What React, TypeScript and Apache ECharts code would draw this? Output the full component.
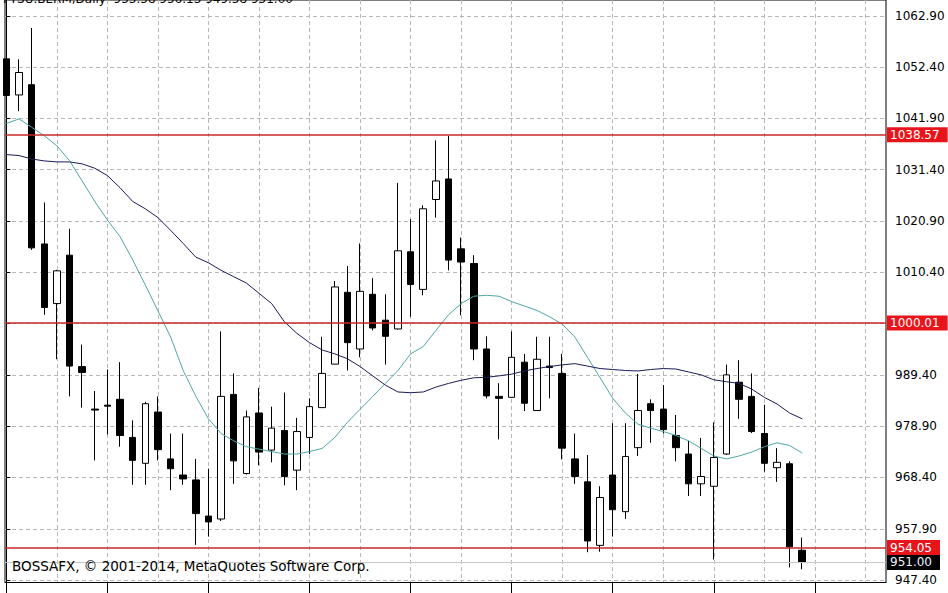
import React, { useEffect, useRef } from "react";
import * as echarts from "echarts";

// Daily candles (index = bar number from the left)
const opens = [
  1054.1, 1046.7, 1048.8, 1016.2, 1004.0, 1013.9, 991.1, 982.4, 983.2, 984.4,
  976.6, 971.3, 981.8, 972.2, 968.9, 967.9, 960.5, 959.9, 985.4, 969.2,
  981.6, 974.0, 978.0, 969.9, 976.6, 982.7, 991.6, 1006.3, 994.7, 1005.9,
  1000.6, 998.8, 1014.6, 1006.9, 1025.3, 1029.5, 1015.2, 1012.2, 994.7, 985.0,
  984.8, 992.0, 982.1, 991.2, 989.7, 972.2, 967.5, 954.5, 968.9, 961.4,
  974.5, 983.5, 982.4, 977.0, 973.2, 967.1, 966.6, 973.2, 987.9, 985.0,
  977.4, 970.4, 971.2, 953.5,
];
const closes = [
  1046.6, 1051.3, 1015.4, 1003.2, 1010.7, 991.2, 989.9, 982.2, 983.0, 977.0,
  971.9, 983.5, 974.1, 970.2, 968.1, 961.0, 959.3, 985.0, 971.8, 980.8,
  973.6, 978.5, 968.6, 977.8, 982.9, 989.7, 1007.4, 996.0, 1006.5, 999.0,
  997.3, 1014.8, 1007.9, 1023.4, 1029.1, 1012.9, 1012.5, 994.7, 985.1, 984.6,
  993.0, 983.6, 992.6, 990.9, 974.4, 968.6, 955.4, 964.3, 961.8, 972.7,
  982.1, 982.1, 978.2, 974.5, 967.1, 968.6, 972.5, 989.4, 984.4, 977.8,
  971.3, 971.5, 954.2, 951.0,
];
const lows = [
  1046.2, 1043.4, 1015.0, 1001.7, 992.6, 985.0, 982.7, 971.9, 977.2, 974.7,
  966.9, 966.9, 971.9, 965.8, 966.9, 954.6, 956.3, 959.5, 967.1, 969.0,
  970.9, 971.5, 966.8, 965.8, 973.2, 982.7, 991.6, 990.3, 993.0, 998.5,
  991.5, 998.7, 1001.3, 1005.7, 1021.6, 1010.8, 1001.6, 992.4, 984.6, 976.2,
  984.8, 982.0, 982.1, 984.6, 972.1, 967.1, 953.1, 953.2, 956.3, 959.9,
  972.8, 975.5, 977.4, 971.7, 964.6, 964.6, 951.6, 973.0, 980.4, 977.5,
  969.6, 967.5, 950.0, 949.6,
];
const highs = [
  1061.4, 1054.0, 1060.4, 1024.7, 1010.9, 1019.3, 995.6, 986.1, 990.5, 992.0,
  980.1, 983.9, 985.0, 977.4, 977.4, 972.2, 970.2, 998.3, 989.7, 982.1,
  986.7, 982.9, 985.8, 980.6, 984.6, 997.2, 1008.6, 1011.7, 1016.3, 1009.2,
  1005.9, 1028.7, 1021.3, 1024.1, 1037.4, 1038.3, 1017.5, 1013.9, 997.3, 987.7,
  998.3, 993.7, 997.2, 997.2, 993.7, 977.4, 973.0, 966.6, 979.5, 979.5,
  989.6, 984.4, 987.3, 981.2, 975.9, 976.5, 979.7, 991.5, 992.4, 989.7,
  983.3, 974.4, 971.7, 956.1,
];

// Moving averages
const maFast = [
  1040.85, 1041.8, 1040.1, 1038.35, 1036.3, 1033.25, 1029.1, 1024.9, 1021.1, 1017.7,
  1012.96, 1007.8, 1002.5, 997.15, 990.3, 985.0, 980.4, 977.4, 975.9, 974.7,
  974.2, 973.7, 973.2, 973.2, 973.7, 974.35, 976.6, 979.7, 982.35, 985.0,
  987.65, 990.3, 993.7, 995.2, 998.5, 1001.7, 1004.0, 1005.5, 1005.7, 1005.5,
  1004.4, 1003.5, 1002.6, 1001.3, 999.8, 997.15, 993.0, 988.8, 984.6, 981.6,
  979.3, 978.5, 977.8, 977.0, 975.9, 974.35, 972.8, 972.2, 972.8, 973.6,
  974.7, 975.5, 974.95, 973.4,
];
const maSlow = [
  1034.5, 1034.3, 1033.6, 1033.2, 1033.0, 1033.0, 1032.6, 1031.7, 1030.2, 1027.7,
  1024.9, 1023.4, 1021.6, 1019.0, 1016.3, 1013.5, 1012.35, 1010.8, 1009.5, 1008.2,
  1006.1, 1004.0, 1000.3, 997.9, 996.0, 994.5, 993.7, 992.7, 991.1, 989.2,
  987.3, 985.9, 985.75, 985.9, 986.9, 987.65, 988.3, 988.8, 988.9, 989.2,
  989.55, 990.2, 990.7, 991.1, 991.45, 991.7, 991.2, 990.7, 990.5, 990.3,
  990.2, 990.5, 990.7, 990.6, 990.0, 989.4, 988.4, 988.0, 987.65, 986.5,
  984.8, 983.45, 981.6, 980.4,
];

// Price axis ticks / labels
const priceTicks = [947.4, 957.9, 968.4, 978.9, 989.4, 999.9, 1010.4, 1020.9, 1031.4, 1041.9, 1052.4, 1062.9];
const priceLabels = [947.4, 957.9, 968.4, 978.9, 989.4, 1010.4, 1020.9, 1031.4, 1041.9, 1052.4, 1062.9];
// Time axis: vertical grid every 4 bars, ticks every 8 bars
const gridBars = [4, 8, 12, 16, 20, 24, 28, 32, 36, 40, 44, 48, 52, 56, 60, 64, 68];
const tickBars = [0, 8, 16, 24, 32, 40, 48, 56, 64];

// Horizontal levels
const levels = [1038.57, 1000.01, 954.05];
const bidPrice = 951.0;

const titleText = "FTSU.BERM,Daily  953.58 956.13 949.58 951.00";
const copyrightText = "BOSSAFX, \u00A9 2001-2014, MetaQuotes Software Corp.";

const FONT = "DejaVu Sans";

export default function App() {
  const ref = useRef<HTMLDivElement>(null);

  useEffect(() => {
    if (!ref.current) return;
    const chart = echarts.init(ref.current, undefined, { renderer: "svg" });

    const candleData = opens.map((o, i) => [i, o, closes[i], lows[i], highs[i]]);
    const fastData = maFast.map((v, i) => [i, v]);
    const slowData = maSlow.map((v, i) => [i, v]);

    const gridDash = { color: "#b8b8b8", width: 1, type: [4, 3] as any };

    chart.setOption({
      animation: false,
      backgroundColor: "#ffffff",
      grid: {
        left: 5,
        right: 62,
        top: -10,
        bottom: 10.5,
        show: true,
        borderColor: "#000",
        borderWidth: 1,
        backgroundColor: "#fff",
      },
      xAxis: [
        {
          type: "value",
          min: -0.107,
          max: 69.63,
          position: "bottom",
          axisLine: { show: true, lineStyle: { color: "#000", width: 1 } },
          axisTick: {
            show: true,
            customValues: tickBars,
            length: 12,
            lineStyle: { color: "#000", width: 1 },
          },
          axisLabel: { show: false },
          splitLine: { show: false },
        },
        {
          type: "value",
          min: -0.107,
          max: 69.63,
          position: "bottom",
          axisLine: { show: false },
          axisTick: { show: false, customValues: gridBars },
          axisLabel: { show: false },
          splitLine: { show: true, lineStyle: gridDash },
        },
      ],
      yAxis: {
        type: "value",
        position: "right",
        min: 946.9,
        max: 1066.14,
        axisLine: { show: true, lineStyle: { color: "#000", width: 1 } },
        axisTick: {
          show: true,
          customValues: priceTicks,
          length: 4,
          lineStyle: { color: "#000", width: 1 },
        },
        axisLabel: {
          show: true,
          customValues: priceLabels,
          margin: 9,
          color: "#000",
          fontSize: 12,
          fontFamily: FONT,
          formatter: (v: number) => v.toFixed(2),
        },
        splitLine: { show: true, lineStyle: gridDash },
      },
      series: [
        {
          type: "candlestick",
          xAxisIndex: 0,
          yAxisIndex: 0,
          data: candleData,
          encode: { x: 0, y: [1, 2, 3, 4] },
          barWidth: 7,
          clip: true,
          itemStyle: {
            color: "#ffffff",
            color0: "#000000",
            borderColor: "#000000",
            borderColor0: "#000000",
            borderColorDoji: "#000000",
            borderWidth: 1,
          },
          markLine: {
            silent: true,
            symbol: ["none", "none"],
            animation: false,
            data: [
              ...levels.map((lv) => ({
                yAxis: lv,
                lineStyle: { color: "#c42a2a", width: 1.5, type: "solid" },
                label: {
                  show: true,
                  position: "end",
                  distance: 1,
                  formatter: lv.toFixed(2),
                  backgroundColor: "#e8141b",
                  color: "#ffffff",
                  padding: [2, 8, 1, 3],
                  fontSize: 12,
                  fontFamily: FONT,
                },
              })),
              {
                yAxis: bidPrice,
                lineStyle: { color: "#c8c8c8", width: 1, type: "solid" },
                label: {
                  show: true,
                  position: "end",
                  distance: 1,
                  formatter: bidPrice.toFixed(2),
                  backgroundColor: "#000000",
                  color: "#f0f0ff",
                  padding: [2, 8, 1, 3],
                  fontSize: 12,
                  fontFamily: FONT,
                },
              },
            ],
          },
        },
        {
          type: "line",
          xAxisIndex: 0,
          yAxisIndex: 0,
          data: fastData,
          showSymbol: false,
          symbol: "none",
          smooth: false,
          lineStyle: { color: "#4fa6a6", width: 1 },
          silent: true,
          clip: true,
        },
        {
          type: "line",
          xAxisIndex: 0,
          yAxisIndex: 0,
          data: slowData,
          showSymbol: false,
          symbol: "none",
          smooth: false,
          lineStyle: { color: "#1c1c58", width: 1 },
          silent: true,
          clip: true,
        },
      ],
      graphic: [
        {
          type: "text",
          left: 3,
          top: -7,
          silent: true,
          z: 100,
          style: {
            text: titleText,
            fill: "#000",
            fontSize: 12,
            fontFamily: FONT,
          },
        },
        {
          type: "text",
          left: 12,
          top: 559,
          silent: true,
          z: 100,
          style: {
            text: copyrightText,
            fill: "#000",
            fontSize: 13.5,
            fontFamily: FONT,
          },
        },
      ],
    });

    return () => {
      chart.dispose();
    };
  }, []);

  return (
    <div
      ref={ref}
      style={{ position: "fixed", left: 0, top: 0, width: 948, height: 593, background: "#fff" }}
    />
  );
}
